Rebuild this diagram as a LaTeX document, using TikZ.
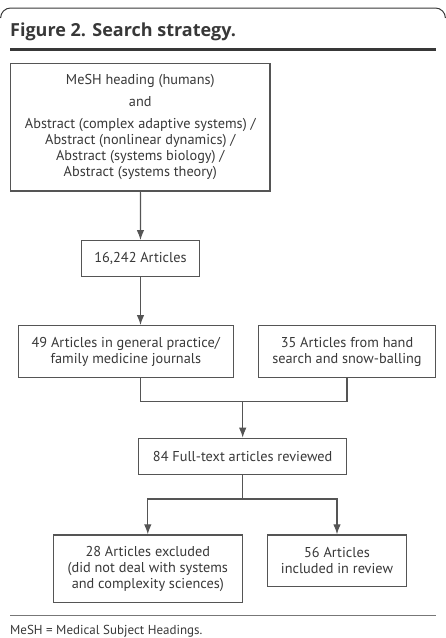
\documentclass[tikz,border=0pt]{standalone}
\usepackage{fontspec}
\setmainfont{PT Sans}
\newfontfamily\titlefont{Open Sans}
\usetikzlibrary{arrows.meta}

\definecolor{linegray}{HTML}{555555}
\definecolor{textgray}{HTML}{383838}

\tikzset{
  box/.style={draw=linegray, line width=1.2pt, align=center, inner sep=0pt,
    text=textgray, font=\fontsize{14.3}{16}\selectfont},
  link/.style={draw=linegray, line width=1.2pt},
}

\begin{document}
\begin{tikzpicture}[x=1pt,y=-1pt,>={Latex[length=10pt,width=7.5pt]}]
  \useasboundingbox (0,0) rectangle (446,638);

  % frame and title
  \draw[line width=1pt, color=textgray, rounded corners=10pt]
    (0.6,18) -- (0.6,8) -- (445.4,8) -- (445.4,18);
  \node[anchor=base west, inner sep=0pt, text=textgray,
    font=\titlefont\fontsize{18}{20}\selectfont\bfseries] (title) at (10,36.7)
    {Figure 2. Search strategy.};
  \draw[line width=3pt, color=textgray] (10,49.5) -- (436,49.5);

  % the boxes
  \node[box, minimum width=259.3pt, minimum height=127.7pt] (query) at (140.3,127.2)
    {MeSH heading (humans)\\[6pt] and\\[6pt] Abstract (complex adaptive systems) /\\
     Abstract (nonlinear dynamics) /\\ Abstract (systems biology) /\\
     Abstract (systems theory)};
  \node[box, minimum width=117.6pt, minimum height=35.6pt] (found) at (140.5,258.5)
    {16,242 Articles};
  \node[box, minimum width=215pt, minimum height=51.6pt] (journals) at (125.8,351.5)
    {49 Articles in general practice/\\ family medicine journals};
  \node[box, minimum width=176.6pt, minimum height=51.6pt] (hand) at (347,351.5)
    {35 Articles from hand\\ search and snow-balling};
  \node[box, minimum width=208pt, minimum height=36pt] (fulltext) at (242.7,456.3)
    {84 Full-text articles reviewed};
  \node[box, minimum width=189pt, minimum height=67.7pt] (excluded) at (147.8,568.8)
    {28 Articles excluded\\ (did not deal with systems\\ and complexity sciences)};
  \node[box, minimum width=139.4pt, minimum height=51.7pt] (included) at (337,560.8)
    {56 Articles\\ included in review};

  % connectors
  \draw[link,->] (query) -- (found);
  \draw[link,->] (found) -- (found |- journals.north);
  \coordinate (merge) at (242.7,401.7);
  \draw[link] (found |- journals.south) |- (merge) -| (hand.south);
  \draw[link,->] (merge) -- (fulltext);
  \coordinate (split) at (242.7,499);
  \draw[link] (fulltext) -- (split);
  \draw[link,->] (split) -| (excluded);
  \draw[link,->] (split) -| (included);

  % footnote
  \draw[line width=1.2pt, color=linegray!80] (10,615.3) -- (436,615.3);
  \node[anchor=base west, inner sep=0pt, text=textgray,
    font=\fontsize{13}{15}\selectfont] (note) at (10,634.5)
    {MeSH = Medical Subject Headings.};
\end{tikzpicture}
\end{document}
